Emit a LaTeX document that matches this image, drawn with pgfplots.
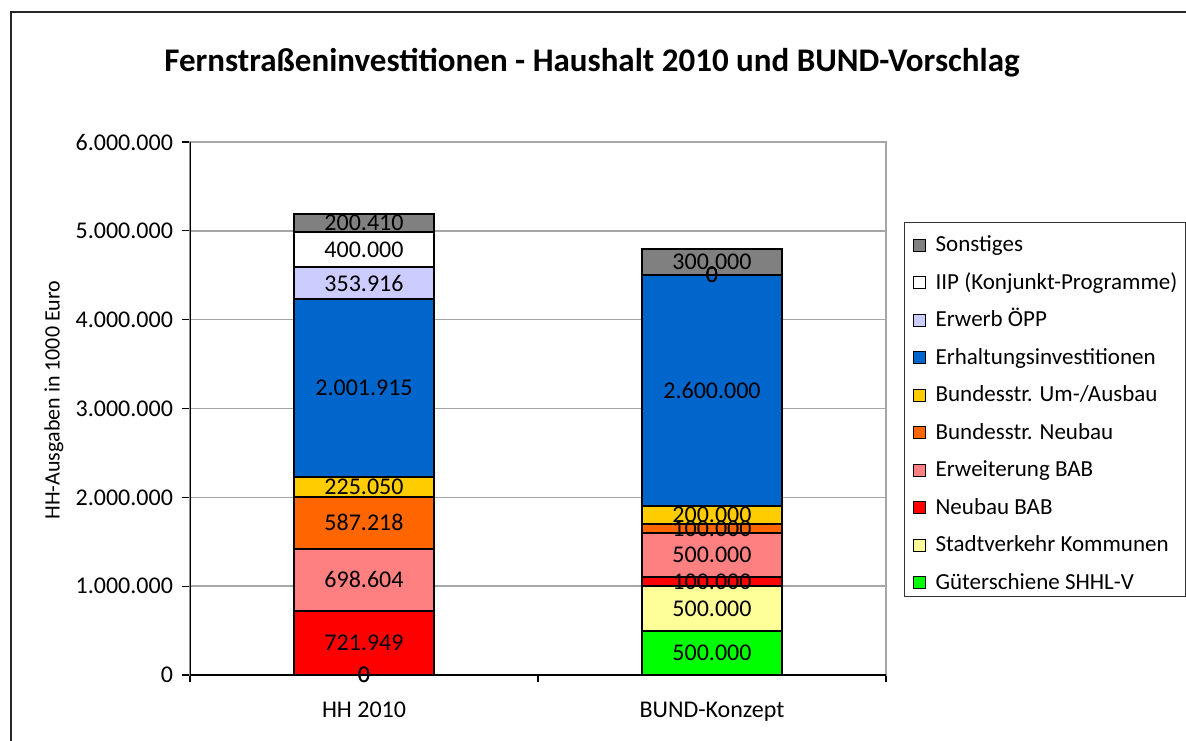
\documentclass[border=0pt]{standalone}
\usepackage{pgfplots}
\pgfplotsset{compat=1.18}
\usepackage{pgfplotstable}
\usepackage{fontspec}
\setmainfont{Carlito}
\definecolor{cSo}{HTML}{808080}
\definecolor{cIIP}{HTML}{FFFFFF}
\definecolor{cOepp}{HTML}{CCCCFF}
\definecolor{cEh}{HTML}{0066CC}
\definecolor{cBu}{HTML}{FFCC00}
\definecolor{cBn}{HTML}{FF6600}
\definecolor{cEb}{HTML}{FF8080}
\definecolor{cNb}{HTML}{FF0000}
\definecolor{cSk}{HTML}{FFFF99}
\definecolor{cGs}{HTML}{00FF00}

\pgfplotstableread{
x gs sk nb eb bn bu eh oepp iip so
0 0 0 721949 698604 587218 225050 2001915 353916 400000 200410
1 500000 500000 100000 500000 100000 200000 2600000 0 0 300000
}\chartdata

\pgfplotsset{
  base/.style={
    at={(0pt,0pt)}, anchor=south west,
    width=348pt, height=266.5pt, scale only axis,
    ybar stacked, bar width=0.4,
    xmin=-0.5, xmax=1.5, ymin=0, ymax=6000000,
    /pgf/number format/.cd, fixed, precision=0, 1000 sep={.}, assume math mode=true,
    /pgfplots/.cd,
  },
  seg/.style={point meta=\thisrow{#1}},
}

\begin{document}
\begin{tikzpicture}
\begin{axis}[
  base,
  xtick={0,1}, xticklabels={HH 2010, BUND-Konzept},
  minor xtick={-0.5,0.5,1.5},
  ytick={0,1000000,2000000,3000000,4000000,5000000,6000000},
  scaled y ticks=false,
  tick align=outside, xtick pos=bottom, ytick pos=left,
  major tick length=4pt, minor tick length=3.5pt,
  major x tick style={draw=none},
  tick style={black, line width=0.6pt},
  ymajorgrids, major grid style={draw=gray!70, line width=0.7pt},
  axis line style={draw=gray!70, line width=0.7pt},
  tick label style={font=\fontsize{12}{14}\selectfont},
  xticklabel style={yshift=-6pt},
  yticklabel style={xshift=-1pt},
  title={Fernstraßeninvestitionen - Haushalt 2010 und BUND-Vorschlag},
  title style={at={(axis description cs:0.5776,1.1257)}, anchor=center, font=\bfseries\fontsize{16.5}{19}\selectfont},
  ylabel={HH-Ausgaben in 1000 Euro},
  ylabel style={at={(axis description cs:-0.1954,0.516)}, anchor=center, font=\fontsize{11}{13}\selectfont},
  every axis plot/.append style={draw=black, line width=1pt},
  reverse legend,
  legend cell align=left,
  legend image code/.code={\draw[#1, line width=0.5pt] (0pt,-5.3pt) rectangle (6pt,0.7pt);},
  legend style={at={(axis description cs:1.0259,0.8499)}, anchor=north west, draw=black!80, line width=0.6pt,
     font=\fontsize{11.5}{13}\selectfont, row sep=7.7pt, inner xsep=4pt, inner ysep=3.5pt,
     nodes={inner sep=0pt, text height=11pt, text depth=0pt},
     /tikz/every odd column/.append style={column sep=5pt}},
]
\draw[black, line width=0.7pt] (rel axis cs:0,1) -- (rel axis cs:0,0) -- (rel axis cs:1,0);
\addplot[fill=cGs] table[x=x, y=gs] {\chartdata};
\addlegendentry{Güterschiene SHHL-V}
\addplot[fill=cSk] table[x=x, y=sk] {\chartdata};
\addlegendentry{Stadtverkehr Kommunen}
\addplot[fill=cNb] table[x=x, y=nb] {\chartdata};
\addlegendentry{Neubau BAB}
\addplot[fill=cEb] table[x=x, y=eb] {\chartdata};
\addlegendentry{Erweiterung BAB}
\addplot[fill=cBn] table[x=x, y=bn] {\chartdata};
\addlegendentry{Bundesstr. Neubau}
\addplot[fill=cBu] table[x=x, y=bu] {\chartdata};
\addlegendentry{Bundesstr. Um-/Ausbau}
\addplot[fill=cEh] table[x=x, y=eh] {\chartdata};
\addlegendentry{Erhaltungsinvestitionen}
\addplot[fill=cOepp] table[x=x, y=oepp] {\chartdata};
\addlegendentry{Erwerb ÖPP}
\addplot[fill=cIIP] table[x=x, y=iip] {\chartdata};
\addlegendentry{IIP (Konjunkt-Programme)}
\addplot[fill=cSo] table[x=x, y=so] {\chartdata};
\addlegendentry{Sonstiges}
\end{axis}
% value labels, drawn over all bars
\begin{axis}[
  base, hide axis, clip=false,
  stacked ignores zero=false,
  nodes near coords,
  every node near coord/.append style={font=\fontsize{12}{14}\selectfont, text=black, anchor=center, inner sep=0pt},
]
\addplot[draw=none, fill=none, seg=gs] table[x=x, y=gs] {\chartdata};
\addplot[draw=none, fill=none, seg=sk] table[x=x, y=sk] {\chartdata};
\addplot[draw=none, fill=none, seg=nb] table[x=x, y=nb] {\chartdata};
\addplot[draw=none, fill=none, seg=eb] table[x=x, y=eb] {\chartdata};
\addplot[draw=none, fill=none, seg=bn] table[x=x, y=bn] {\chartdata};
\addplot[draw=none, fill=none, seg=bu] table[x=x, y=bu] {\chartdata};
\addplot[draw=none, fill=none, seg=eh] table[x=x, y=eh] {\chartdata};
\addplot[draw=none, fill=none, seg=oepp] table[x=x, y=oepp] {\chartdata};
\addplot[draw=none, fill=none, seg=iip] table[x=x, y=iip] {\chartdata};
\addplot[draw=none, fill=none, seg=so] table[x=x, y=so] {\chartdata};
\end{axis}
\draw[black!85, line width=0.6pt] (-89.5pt,-60pt) rectangle (560pt,331.5pt);
\pgfresetboundingbox
\path[use as bounding box] (-95pt,-32.5pt) rectangle (498pt,337.5pt);
\end{tikzpicture}
\end{document}
